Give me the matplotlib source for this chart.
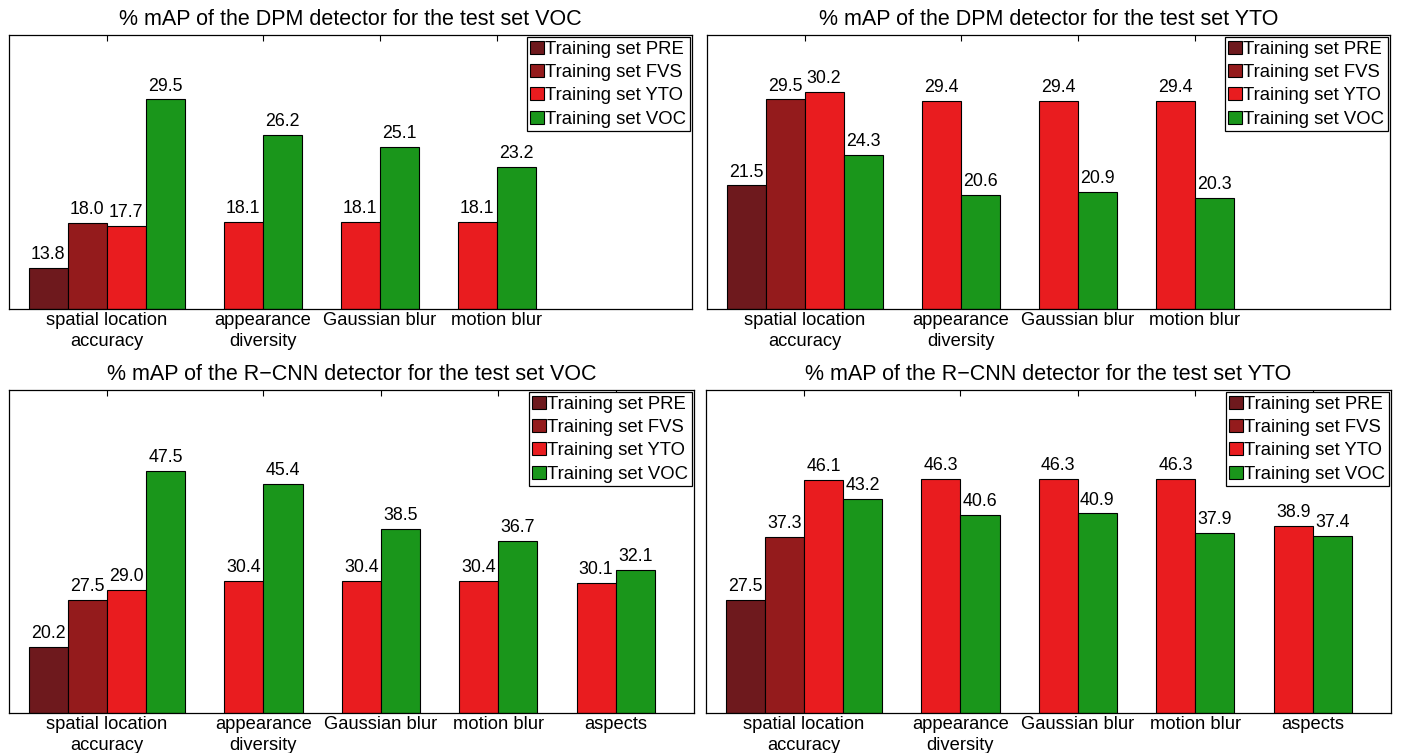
import numpy as np
import matplotlib
matplotlib.use("Agg")
import matplotlib.pyplot as plt

plt.rcParams["font.family"] = ["Liberation Sans", "DejaVu Sans"]

categories = ["spatial location\naccuracy", "appearance\ndiversity",
              "Gaussian blur", "motion blur", "aspects"]
series = ["Training set PRE", "Training set FVS", "Training set YTO", "Training set VOC"]
colors = ["#6e191d", "#941b1c", "#e91c1f", "#1a961b"]
nan = np.nan

# DPM, test set VOC
dpm_voc_pre = [13.8, nan, nan, nan]
dpm_voc_fvs = [18.0, nan, nan, nan]
dpm_voc_yto = [17.7, 18.1, 18.1, 18.1]
dpm_voc_voc = [29.5, 26.2, 25.1, 23.2]
# DPM, test set YTO
dpm_yto_pre = [21.5, nan, nan, nan]
dpm_yto_fvs = [29.5, nan, nan, nan]
dpm_yto_yto = [30.2, 29.4, 29.4, 29.4]
dpm_yto_voc = [24.3, 20.6, 20.9, 20.3]
# R-CNN, test set VOC
rcnn_voc_pre = [20.2, nan, nan, nan, nan]
rcnn_voc_fvs = [27.5, nan, nan, nan, nan]
rcnn_voc_yto = [29.0, 30.4, 30.4, 30.4, 30.1]
rcnn_voc_voc = [47.5, 45.4, 38.5, 36.7, 32.1]
# R-CNN, test set YTO
rcnn_yto_pre = [27.5, nan, nan, nan, nan]
rcnn_yto_fvs = [37.3, nan, nan, nan, nan]
rcnn_yto_yto = [46.1, 46.3, 46.3, 46.3, 38.9]
rcnn_yto_voc = [43.2, 40.6, 40.9, 37.9, 37.4]

W, H = 1401, 753
fig = plt.figure(figsize=(W / 100, H / 100), dpi=100)


def px_axes(l, t, r, b):
    return fig.add_axes([l / W, 1 - b / H, (r - l) / W, (b - t) / H])


def panel(ax, title, data, ylim):
    ngroups = len(data[0])
    # slot positions: present bars side by side, one empty slot between groups
    pos = [[nan] * ngroups for _ in data]
    centers = []
    slot = 0
    for g in range(ngroups):
        used = []
        for s in range(len(data)):
            if not np.isnan(data[s][g]):
                pos[s][g] = slot
                used.append(slot)
                slot += 1
        centers.append(np.mean(used))
        slot += 1
    for s, vals in enumerate(data):
        xs = [p for p, v in zip(pos[s], vals) if not np.isnan(v)]
        hs = [v for v in vals if not np.isnan(v)]
        bars = ax.bar(xs, [h - ylim[0] for h in hs], bottom=ylim[0], width=1.0,
                      color=colors[s], edgecolor="black", linewidth=0.8,
                      label=series[s], zorder=2)
        for b, h in zip(bars, hs):
            ax.annotate(f"{h:.1f}", (b.get_x() + b.get_width() / 2, h),
                        xytext=(0, 3.5), textcoords="offset points",
                        ha="center", va="bottom", fontsize=12.8)
    ax.set_xlim(-1, 16.5)
    ax.set_ylim(*ylim)
    ax.set_xticks(centers)
    ax.set_xticklabels(categories[:ngroups], fontsize=13.2, linespacing=1.3)
    ax.set_yticks([])
    ax.tick_params(axis="x", direction="in", top=True, bottom=True,
                   length=4.5, width=0.8, pad=2.5)
    for sp in ax.spines.values():
        sp.set_linewidth(0.9)
    ax.set_title(title, fontsize=15.5, pad=7)
    leg = ax.legend(loc="upper right", fontsize=13.3, frameon=True, fancybox=False,
                    framealpha=1, edgecolor="black", borderaxespad=0.1,
                    handlelength=0.72, handleheight=0.72, handletextpad=0.1,
                    labelspacing=0.34, borderpad=0.2)
    leg.get_frame().set_linewidth(0.9)
    leg.set_zorder(5)


ax1 = px_axes(9, 35, 692, 309)
panel(ax1, "% mAP of the DPM detector for the test set VOC",
      [dpm_voc_pre, dpm_voc_fvs, dpm_voc_yto, dpm_voc_voc], (10, 35.5))
ax2 = px_axes(707, 35, 1390, 309)
panel(ax2, "% mAP of the DPM detector for the test set YTO",
      [dpm_yto_pre, dpm_yto_fvs, dpm_yto_yto, dpm_yto_voc], (10, 35.5))
ax3 = px_axes(9, 390, 694, 713)
panel(ax3, "% mAP of the R\u2212CNN detector for the test set VOC",
      [rcnn_voc_pre, rcnn_voc_fvs, rcnn_voc_yto, rcnn_voc_voc], (10, 60))
ax4 = px_axes(706, 390, 1391, 713)
panel(ax4, "% mAP of the R\u2212CNN detector for the test set YTO",
      [rcnn_yto_pre, rcnn_yto_fvs, rcnn_yto_yto, rcnn_yto_voc], (10, 60))

fig.savefig("out.png", dpi=100)
